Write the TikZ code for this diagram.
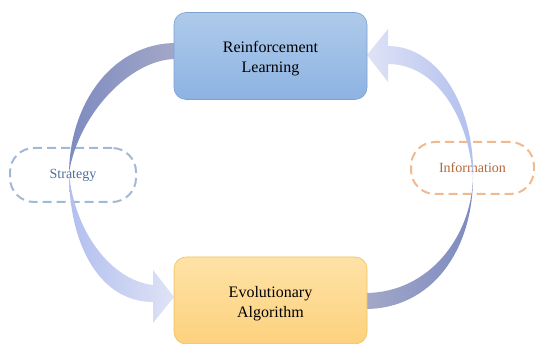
\documentclass[tikz,border=0pt]{standalone}
\usepackage{fontspec}
\setmainfont{Liberation Serif}
\newfontfamily\tnr{Liberation Serif}
\newcommand{\downstrut}{\rule{0pt}{17pt}}
\begin{document}
\begin{tikzpicture}[x=1pt,y=-1pt]
\definecolor{rltop}{HTML}{AECAEA}
\definecolor{rlbot}{HTML}{8DB3E2}
\definecolor{rlline}{HTML}{7BA2D3}
\definecolor{eatop}{HTML}{FEE2A6}
\definecolor{eabot}{HTML}{FDD17E}
\definecolor{ealine}{HTML}{EFC15A}
\definecolor{darkA}{HTML}{7D8BC0}
\definecolor{darkB}{HTML}{A3A8C7}
\definecolor{lightA}{HTML}{B2BFEE}
\definecolor{lightB}{HTML}{DFE3F6}
\definecolor{stratline}{HTML}{A2B9D4}
\definecolor{strattext}{HTML}{4E6F9C}
\definecolor{infoline}{HTML}{F0B98F}
\definecolor{infotext}{HTML}{B4683A}
\tikzset{
  mainbox/.style={rounded corners=12pt, minimum width=193pt, minimum height=87pt,
    align=center, font=\tnr\fontsize{16}{20}\selectfont, line width=0.6pt},
  labelbox/.style={rounded corners=24pt, dash pattern=on 9pt off 5pt, line width=2pt,
    align=center, font=\tnr\fontsize{14}{16}\selectfont}
}
\useasboundingbox (0,0) rectangle (535,344);
% dashed labels
\node[labelbox, draw=stratline, text=strattext, minimum width=126pt, minimum height=54pt] (strat) at (73,175) {Strategy};
\node[labelbox, draw=infoline, text=infotext, minimum width=123pt, minimum height=52pt] (info) at (472.5,168) {Information};
% left arrow: upper dark crescent
\shade[left color=darkA, right color=darkB]
  (176,43) .. controls (115,43) and (70,100) .. (69,173)
  .. controls (78,115) and (130,59) .. (176,59) -- cycle;
% left arrow: lower light part with head
\shade[left color=lightA, right color=lightB]
  (69,173) .. controls (74,230) and (110,280) .. (153,285)
  -- (153,270) -- (174,297) -- (153,323) -- (153,302)
  .. controls (100,302) and (69,245) .. (69,173) -- cycle;
% right arrow: lower dark crescent
\shade[left color=darkB, right color=darkA]
  (365,309) .. controls (432,309) and (473,250) .. (473,177)
  .. controls (472,235) and (430,293) .. (365,293) -- cycle;
% right arrow: upper light part with head
\shade[left color=lightB, right color=lightA]
  (473,177) .. controls (468,115) and (435,64) .. (388,64)
  -- (388,82) -- (367,55) -- (388,29) -- (388,46)
  .. controls (440,46) and (475,110) .. (473,177) -- cycle;
% main boxes
\node[mainbox, draw=rlline, top color=rltop, bottom color=rlbot] (rl) at (270.5,56) {\downstrut Reinforcement\\Learning};
\node[mainbox, draw=ealine, top color=eatop, bottom color=eabot] (ea) at (270.5,300.5) {\downstrut Evolutionary\\Algorithm};
\end{tikzpicture}
\end{document}
